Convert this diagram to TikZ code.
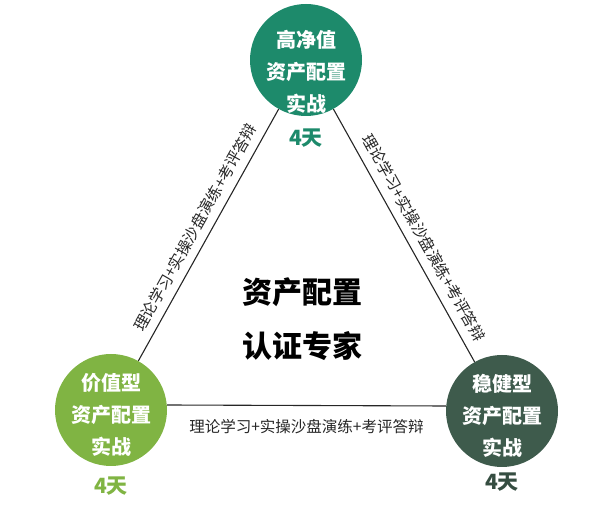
\documentclass[tikz,border=0pt]{standalone}
\usepackage{fontspec}
\setmainfont{Noto Sans CJK SC}
\definecolor{HnwGreen}{HTML}{1D8A6B}
\definecolor{ValGreen}{HTML}{80B443}
\definecolor{StdGreen}{HTML}{3E5B4C}
\usetikzlibrary{positioning}

\begin{document}
\begin{tikzpicture}[x=1pt, y=1pt,
    camp/.style={circle, minimum size=112pt, inner sep=0pt},
    camptext/.style={text=white, font=\fontsize{20}{32}\selectfont\bfseries, align=center},
    days/.style={inner sep=0pt, font=\fontsize{21}{24}\selectfont\bfseries},
    course/.style={font=\fontsize{15.5}{17}\selectfont, sloped}]
  \useasboundingbox (0,0) rectangle (592,506);
  \node[camp, fill=HnwGreen] (hnw) at (306,446) {};
  \node[camp, fill=ValGreen] (val) at (111,96) {};
  \node[camp, fill=StdGreen] (std) at (502,95) {};
  \node[camptext] (hnwtxt) at ([yshift=-12pt]hnw.center) {高净值\\资产配置\\实战};
  \node[camptext] (valtxt) at ([yshift=-5pt]val.center) {价值型\\资产配置\\实战};
  \node[camptext] (stdtxt) at ([yshift=-5pt]std.center) {稳健型\\资产配置\\实战};
  \node[days, text=HnwGreen, below=12pt of hnw] (hnwdays) {4天};
  \node[days, text=ValGreen, below=10pt of val] (valdays) {4天};
  \node[days, text=StdGreen!85!black, below=5pt of std] (stddays) {4天};
  % edges with the course content
  \draw[line width=1.1pt, black!85] (val) -- (hnw)
    node[course, midway, above=4pt] (lbl1) {理论学习+实操沙盘演练+考评答辩};
  \draw[line width=1.1pt, black!85] (hnw) -- (std)
    node[course, pos=0.54, above=5pt] (lbl2) {理论学习+实操沙盘演练+考评答辩};
  \draw[line width=1.1pt, black!85] ([yshift=5pt]val.east) -- ([yshift=5pt]std.west)
    node[course, midway, below=10pt] (lbl3) {理论学习+实操沙盘演练+考评答辩};
  \node[font=\fontsize{30}{54}\selectfont\bfseries, align=center] (title)
    at (302,187) {资产配置\\认证专家};
\end{tikzpicture}
\end{document}
